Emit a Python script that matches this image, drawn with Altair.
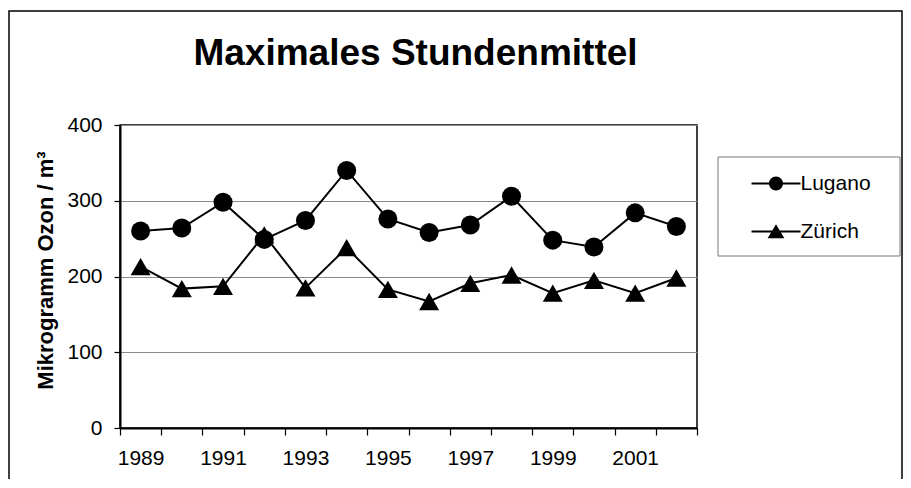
import altair as alt
import pandas as pd

# ---- data ----
years = list(range(1989, 2003))
lugano = [260, 264, 298, 249, 274, 340, 276, 258, 268, 306, 248, 239, 284, 266]
zurich = [213, 184, 187, 255, 185, 238, 183, 167, 191, 202, 178, 195, 178, 198]
series_names = ["Lugano", "Zürich"]
y_ticks = [0, 100, 200, 300, 400]
x_label_years = [1989, 1991, 1993, 1995, 1997, 1999, 2001]

FONT = "Liberation Sans"
W, H = 577, 303
BW = W / len(years)

df = pd.DataFrame({
    "year": years * 2,
    "value": lugano + zurich,
    "series": [series_names[0]] * len(years) + [series_names[1]] * len(years),
})

edges = [y - 0.5 for y in years] + [years[-1] + 0.5]
label_edges = [y - 0.5 for y in x_label_years]
label_expr = "indexof([" + ",".join(str(v) for v in label_edges) + "], datum.value) >= 0 ? format(datum.value + 0.5, 'd') : ''"

x_enc = alt.X(
    "year:Q",
    scale=alt.Scale(domain=[years[0] - 0.5, years[-1] + 0.5], nice=False, zero=False),
    axis=alt.Axis(
        values=edges, labelExpr=label_expr, labelOffset=BW / 2, title=None,
        grid=False, tickSize=7, tickColor="black", tickWidth=1.2,
        domainColor="black", domainWidth=2, labelFontSize=21, labelFont=FONT,
        labelColor="black", labelPadding=12, labelFlush=False, labelOverlap=False,
        labelBound=False,
    ),
)
y_enc = alt.Y(
    "value:Q",
    scale=alt.Scale(domain=[0, 400], nice=False),
    axis=alt.Axis(
        values=y_ticks, grid=True, gridColor="#8a8a8a", gridWidth=1,
        tickSize=6, tickColor="black", tickWidth=1.2, domainColor="black", domainWidth=2,
        labelFontSize=21, labelFont=FONT, labelColor="black", labelPadding=12,
        title="Mikrogramm Ozon / m³", titleFontSize=22, titleFont=FONT,
        titleFontWeight="bold", titleColor="black", titleX=-75, titleY=145,
        titleAngle=270, titleAlign="center", titleBaseline="middle",
    ),
)

base = alt.Chart(df)

lines = base.mark_line(color="black", strokeWidth=2).encode(x=x_enc, y=y_enc, detail="series:N")
circles = base.transform_filter(alt.datum.series == series_names[0]).mark_point(
    shape="circle", filled=True, color="black", size=361, opacity=1
).encode(x=x_enc, y=y_enc)
triangles = base.transform_filter(alt.datum.series == series_names[1]).mark_point(
    shape="triangle-up", filled=True, color="black", size=400, opacity=1
).encode(x=x_enc, y=y_enc)

path_circle = ("M-3.5,-0.14 L3.5,-0.14 L3.5,0.14 L-3.5,0.14 Z "
               "M1,0 A1,1 0 1,1 -1,0 A1,1 0 1,1 1,0 Z")
path_tri = ("M-3.5,-0.14 L3.5,-0.14 L3.5,0.14 L-3.5,0.14 Z "
            "M0,-1.05 L1.2,0.95 L-1.2,0.95 Z")

legend_layer = base.mark_point(filled=True, color="black", size=0).encode(
    x=x_enc, y=y_enc,
    shape=alt.Shape(
        "series:N",
        scale=alt.Scale(domain=series_names, range=[path_circle, path_tri]),
        legend=alt.Legend(
            orient="none", legendX=645.5, legendY=48, title=None,
            labelFontSize=21, labelFont=FONT, labelColor="black",
            symbolSize=196, symbolFillColor="black", symbolStrokeColor="black",
            symbolStrokeWidth=0, symbolOpacity=1, labelOffset=14,
            rowPadding=26, padding=0,
        ),
    ),
)

one = alt.Data(values=[{"k": 1}])
frame = alt.Chart(one).mark_rect(fill="white", fillOpacity=0, stroke="black", strokeWidth=1.5).encode(
    x=alt.value(-111), x2=alt.value(782), y=alt.value(-114), y2=alt.value(420)
)
legend_box = alt.Chart(one).mark_rect(fill="white", fillOpacity=0, stroke="#777777", strokeWidth=1).encode(
    x=alt.value(598), x2=alt.value(780), y=alt.value(32), y2=alt.value(131)
)

chart = alt.layer(frame, legend_box, lines, circles, triangles, legend_layer).properties(
    width=W, height=H,
    title=alt.TitleParams(
        "Maximales Stundenmittel", fontSize=37, font=FONT, fontWeight="bold",
        color="black", anchor="middle", dx=7, offset=0, baseline="alphabetic", dy=92,
    ),
    autosize=alt.AutoSizeParams(type="none"),
    padding={"left": 112, "top": 117, "right": 206, "bottom": 51},
    background="white",
).configure_view(stroke="black", strokeWidth=1.5)

chart.save("out.html", embed_options={"renderer": "svg", "actions": False})
